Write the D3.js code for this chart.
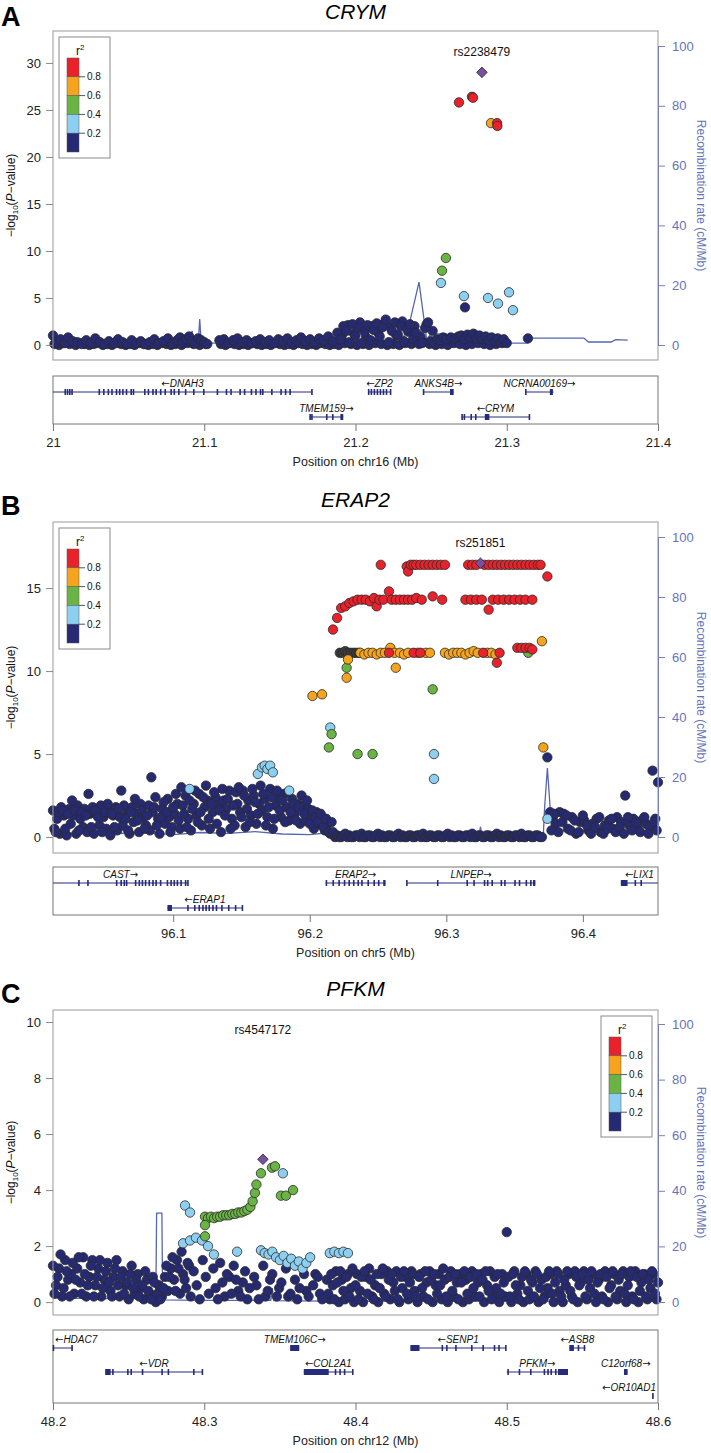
<!DOCTYPE html>
<html>
<head>
<meta charset="utf-8">
<script src="https://cdn.jsdelivr.net/npm/d3@7"></script>
<style>
body { margin: 0; background: #fff; }
svg text { font-family: "Liberation Sans", Arial, sans-serif; }
</style>
</head>
<body>
<svg id="chart" width="711" height="1453"></svg>
<script>
// ---- panel A : CRYM, chr16 ----
var aLead = [21.2836, 29.0];
var aRed = [[21.2684,25.8],[21.2770,26.4],[21.2777,26.3],[21.2936,23.6],[21.2938,23.3]];
var aOrange = [[21.2896,23.6]];
var aGreen = [[21.2598,9.25],[21.2572,7.9]];
var aLightBlue = [[21.2565,6.6],[21.2717,5.2],[21.2876,5.0],[21.2942,4.4],[21.3015,5.6],[21.3041,3.7]];
var aNavy = [[21.000,1.0],[21.002,0.3],[21.005,0.6],[21.008,0.2],[21.010,0.8],[21.013,0.4],[21.016,0.3],[21.019,0.1],[21.022,0.5],[21.025,0.2],[21.028,0.7],[21.031,0.3],[21.034,0.1],[21.037,0.4],[21.040,0.2],[21.043,0.6],[21.046,0.3],[21.049,0.1],[21.052,0.5],[21.055,0.2],[21.058,0.4],[21.061,0.1],[21.064,0.3],[21.067,0.6],[21.070,0.2],[21.073,0.4],[21.076,0.7],[21.079,0.2],[21.082,0.5],[21.084,0.8],[21.086,0.3],[21.088,0.6],[21.090,0.9],[21.092,0.4],[21.094,0.2],[21.096,0.7],[21.098,0.5],[21.100,0.3],[21.102,0.1],[21.110,0.5],[21.113,0.6],[21.116,0.2],[21.119,0.5],[21.122,0.7],[21.125,0.3],[21.128,0.5],[21.131,0.2],[21.134,0.4],[21.137,0.6],[21.140,0.3],[21.143,0.5],[21.146,0.2],[21.149,0.6],[21.152,0.4],[21.155,0.7],[21.158,0.3],[21.161,0.5],[21.164,0.8],[21.167,0.4],[21.170,0.6],[21.173,0.3],[21.176,0.7],[21.179,0.5],[21.182,0.9],[21.185,0.4],[21.188,1.3],[21.190,0.6],[21.192,2.0],[21.194,1.5],[21.196,0.3],[21.198,2.2],[21.200,1.0],[21.202,1.8],[21.204,0.2],[21.206,1.4],[21.208,2.1],[21.210,0.5],[21.212,1.6],[21.214,2.3],[21.216,0.9],[21.218,1.9],[21.220,2.7],[21.222,0.3],[21.224,1.5],[21.226,2.4],[21.228,1.1],[21.230,2.0],[21.232,0.4],[21.234,1.7],[21.236,2.2],[21.238,0.6],[21.240,1.3],[21.242,0.1],[21.244,0.2],[21.246,1.8],[21.248,2.4],[21.250,0.4],[21.252,0.2],[21.254,0.6],[21.256,0.5],[21.258,0.8],[21.260,0.6],[21.263,0.8],[21.266,0.7],[21.268,0.9],[21.270,1.0],[21.2724,4.0],[21.272,0.6],[21.274,1.1],[21.276,0.8],[21.278,1.2],[21.280,0.7],[21.282,1.0],[21.284,0.6],[21.286,0.9],[21.288,0.5],[21.290,0.8],[21.292,0.4],[21.294,0.7],[21.296,0.3],[21.298,0.6],[21.300,0.2],[21.314,0.7]];
var aNavyBase = [[21.001,0.1],[21.004,0.0],[21.007,0.2],[21.011,0.1],[21.015,0.0],[21.018,0.2],[21.021,0.1],[21.024,0.0],[21.027,0.1],[21.030,0.2],[21.033,0.0],[21.036,0.1],[21.039,0.0],[21.042,0.2],[21.045,0.1],[21.048,0.0],[21.051,0.1],[21.054,0.0],[21.057,0.2],[21.060,0.1],[21.063,0.0],[21.066,0.1],[21.069,0.0],[21.072,0.2],[21.075,0.1],[21.078,0.0],[21.081,0.1],[21.085,0.0],[21.089,0.2],[21.093,0.1],[21.097,0.0],[21.101,0.1],[21.111,0.1],[21.114,0.0],[21.117,0.2],[21.120,0.1],[21.123,0.0],[21.126,0.1],[21.129,0.0],[21.132,0.2],[21.135,0.1],[21.138,0.0],[21.141,0.1],[21.144,0.0],[21.147,0.2],[21.150,0.1],[21.153,0.0],[21.156,0.1],[21.159,0.0],[21.162,0.2],[21.165,0.1],[21.168,0.0],[21.171,0.1],[21.174,0.0],[21.177,0.2],[21.180,0.1],[21.183,0.0],[21.186,0.1],[21.189,0.0],[21.193,0.2],[21.197,0.1],[21.201,0.0],[21.205,0.1],[21.209,0.0],[21.213,0.2],[21.217,0.1],[21.221,0.0],[21.225,0.1],[21.229,0.0],[21.233,0.2],[21.237,0.1],[21.241,0.5],[21.245,0.3],[21.249,0.1],[21.253,0.0],[21.257,0.1],[21.261,0.0],[21.265,0.2],[21.269,0.1],[21.273,0.0],[21.277,0.1],[21.281,0.2],[21.285,0.1],[21.289,0.0],[21.293,0.1],[21.297,0.2],
  [21.191,1.0],[21.195,2.1],[21.199,1.2],[21.203,2.4],[21.207,0.8],[21.211,2.0],[21.215,1.3],[21.219,2.3],[21.223,1.9],[21.227,1.0],[21.231,2.5],[21.235,1.4],[21.239,2.0],[21.243,0.9],[21.247,2.2],[21.251,1.5]];
var aRec = [[21.0,0.8],[21.090,0.8],[21.092,4.7],[21.093,0.5],[21.096,0.5],[21.097,8.7],[21.098,0.6],[21.230,0.6],[21.236,8],[21.242,21],[21.247,2],[21.250,3.7],[21.260,3.7],[21.262,0.3],[21.300,0.6],[21.314,0.6],[21.315,2.3],[21.351,2.3],[21.354,1.0],[21.369,1.0],[21.372,1.8],[21.380,1.6]];
var aGenes = [
  {name:"DNAH3", start:21.0, end:21.1712, strand:"-", row:0, exons:[21.0081,21.0096,21.0111,21.0126,21.0306,21.0336,21.0366,21.039,21.042,21.0441,21.0462,21.0486,21.0517,21.0532,21.0607,21.0631,21.0661,21.0682,21.0712,21.0742,21.0781,21.0802,21.0832,21.0877,21.0931,21.0997,21.1087,21.1147,21.1177,21.1237,21.1267,21.1312,21.1342,21.1372,21.1387,21.1447,21.1508,21.1538,21.1568,21.1712]},
  {name:"ZP2", start:21.2084, end:21.2234, strand:"-", row:0, exons:[21.2087,21.2105,21.2125,21.2145,21.2165,21.2185,21.2205,21.2232]},
  {name:"ANKS4B", start:21.2447, end:21.2649, strand:"+", row:0, exons:[21.245,[21.2625,21.2649]]},
  {name:"NCRNA00169", start:21.3123, end:21.331, strand:"+", row:0, exons:[21.3126,[21.3285,21.3305]]},
  {name:"TMEM159", start:21.1697, end:21.1919, strand:"+", row:1, exons:[21.170,21.1712,21.181,21.185,[21.190,21.1919]]},
  {name:"CRYM", start:21.270, end:21.315, strand:"-", row:1, exons:[21.2705,21.272,21.2765,21.2795,[21.2855,21.2885],21.315]}
];

// ---- panel B : ERAP2, chr5 ----
var bLead = [96.325, 16.5];
var bRed = [[96.252,16.4],[96.271,16.3],[96.272,16.0],[96.274,16.4],[96.276,16.4],[96.278,16.4],[96.281,16.4],[96.284,16.4],[96.287,16.4],[96.290,16.4],[96.293,16.4],[96.296,16.4],[96.299,16.4],[96.316,16.4],[96.319,16.4],[96.322,16.4],[96.328,16.4],[96.331,16.4],[96.334,16.4],[96.337,16.4],[96.340,16.4],[96.343,16.4],[96.346,16.4],[96.349,16.4],[96.352,16.4],[96.355,16.4],[96.358,16.4],[96.361,16.4],[96.364,16.4],[96.367,16.4],[96.369,16.4],[96.374,15.7],
  [96.217,12.5],[96.220,13.2],[96.223,13.8],[96.226,13.9],[96.229,14.1],[96.232,14.2],[96.235,14.3],[96.238,14.3],[96.241,14.3],[96.244,14.2],[96.247,14.4],[96.249,13.9],[96.251,14.3],[96.254,14.3],[96.258,14.8],[96.260,14.3],[96.263,14.3],[96.266,14.3],[96.269,14.3],[96.272,14.3],[96.275,14.3],[96.278,14.4],[96.282,14.3],[96.290,14.5],[96.297,14.3],[96.314,14.3],[96.318,14.3],[96.322,14.3],[96.326,14.3],[96.331,13.7],[96.334,14.3],[96.338,14.3],[96.342,14.3],[96.346,14.3],[96.350,14.3],[96.354,14.3],[96.358,14.3],[96.363,14.3],
  [96.258,11.1],[96.276,11.1],[96.281,11.1],[96.327,11.1],[96.339,11.1],[96.337,10.5],[96.352,11.4],[96.355,11.4],[96.358,11.4],[96.361,11.4],[96.363,11.3]];
var bOrange = [[96.202,8.5],[96.209,8.6],[96.227,9.6],[96.228,10.7],[96.237,11.1],[96.240,11.0],[96.243,11.1],[96.246,11.1],[96.249,11.0],[96.252,11.1],[96.255,11.1],[96.259,11.4],[96.262,11.1],[96.263,10.2],[96.266,11.1],[96.269,11.0],[96.272,11.1],[96.279,11.1],[96.285,11.1],[96.288,11.1],[96.299,11.1],[96.302,11.0],[96.305,11.1],[96.308,11.1],[96.311,11.1],[96.314,11.0],[96.317,11.1],[96.320,11.2],[96.323,11.1],[96.330,11.1],[96.333,11.1],[96.336,11.0],[96.370,11.8],[96.371,5.4]];
var bGreen = [[96.227,10.2],[96.360,11.1],[96.214,5.4],[96.216,6.2],[96.235,5.0],[96.246,5.0],[96.290,8.9]];
var bLightBlue = [[96.215,6.6],[96.112,2.9],[96.162,3.8],[96.165,4.2],[96.167,4.3],[96.169,4.1],[96.171,4.3],[96.173,3.9],[96.185,2.8],[96.291,5.0],[96.291,3.5],[96.374,1.1]];
var bGray = [[96.222,11.1],[96.224,11.1],[96.226,11.2],[96.228,11.1],[96.230,11.1],[96.232,11.1],[96.234,11.1],[96.236,11.1]];
var bNavy = [[96.012,1.6],[96.014,0.3],[96.016,1.5],[96.019,1.6],[96.021,0.5],[96.023,1.4],[96.026,2.2],[96.028,1.6],[96.031,0.4],[96.033,1.5],[96.036,1.3],[96.038,2.6],[96.040,0.6],[96.043,1.6],[96.045,1.2],[96.048,0.3],[96.050,1.5],[96.052,2.0],[96.055,1.4],[96.057,0.6],[96.060,1.7],[96.062,2.8],[96.065,1.1],[96.067,0.4],[96.069,1.5],[96.072,2.3],[96.074,1.0],[96.077,1.6],[96.079,0.5],[96.081,1.3],[96.084,3.6],[96.086,1.8],[96.088,0.7],[96.091,1.2],[96.093,2.1],[96.095,1.5],[96.098,0.3],[96.100,1.8],[96.102,2.6],[96.104,1.0],[96.106,3.0],[96.108,1.4],[96.110,0.6],[96.112,2.2],[96.114,1.7],[96.116,2.8],[96.118,0.9],[96.120,1.5],[96.122,2.4],[96.124,3.1],[96.126,1.1],[96.128,2.0],[96.130,2.7],[96.132,0.8],[96.134,1.6],[96.136,2.9],[96.138,1.3],[96.140,2.3],[96.142,0.5],[96.144,1.9],[96.146,2.7],[96.148,3.0],[96.150,1.2],[96.152,2.5],[96.154,1.7],[96.156,0.9],[96.158,2.9],[96.160,2.1],[96.162,1.4],[96.164,3.1],[96.166,2.6],[96.168,0.7],[96.170,1.8],[96.172,2.4],[96.174,1.1],[96.176,2.8],[96.178,1.6],[96.180,2.2],[96.182,0.9],[96.184,2.7],[96.186,1.5],[96.188,2.0],[96.190,1.0],[96.192,1.8],[96.194,2.5],[96.196,1.4],[96.198,2.2],[96.200,0.8],[96.202,1.6],[96.204,1.2],[96.206,0.9],[96.208,1.4],[96.210,0.6],[96.212,1.1],[96.214,0.3],[96.216,0.9],
  [96.374,4.8],[96.376,1.5],[96.378,1.2],[96.380,0.8],[96.383,1.5],[96.386,1.4],[96.389,0.5],[96.392,1.2],[96.395,0.2],[96.398,0.9],[96.401,1.0],[96.404,0.4],[96.407,0.8],[96.410,1.1],[96.413,0.3],[96.416,0.7],[96.419,1.0],[96.422,0.5],[96.425,1.2],[96.428,0.9],[96.431,2.5],[96.434,0.7],[96.437,1.1],[96.440,0.5],[96.443,1.0],[96.446,0.8],[96.449,0.6],[96.451,4.0],[96.453,1.1],[96.455,3.3]];
var bNavyDense = [[96.013,0.5],[96.015,1.1],[96.017,0.2],[96.018,1.8],[96.020,1.3],[96.022,0.1],[96.024,1.7],[96.025,0.8],[96.027,1.3],[96.029,0.2],[96.030,1.9],[96.032,1.1],[96.034,0.6],[96.035,1.7],[96.037,0.3],[96.039,1.4],[96.041,1.8],[96.042,0.2],[96.044,1.4],[96.046,0.7],[96.047,1.9],[96.049,1.2],[96.051,0.5],[96.053,1.7],[96.054,0.1],[96.056,1.3],[96.058,1.8],[96.059,0.4],[96.061,1.2],[96.063,0.7],[96.064,1.9],[96.066,1.4],[96.068,0.2],[96.070,1.8],[96.071,0.9],[96.073,1.4],[96.075,0.3],[96.076,2.0],[96.078,1.2],[96.080,0.7],[96.082,1.9],[96.083,0.4],[96.085,1.5],[96.087,2.4],[96.089,1.1],[96.090,0.2],[96.092,1.7],[96.094,0.8],[96.096,2.3],[96.097,1.2],[96.099,0.6],[96.101,1.4],[96.103,2.0],[96.105,0.5],[96.107,1.9],[96.109,2.5],[96.111,1.1],[96.113,0.4],[96.115,2.0],[96.117,1.3],[96.119,2.6],[96.121,0.7],[96.123,1.8],[96.125,2.2],[96.127,0.5],[96.129,1.5],[96.131,2.4],[96.133,1.9],[96.135,0.3],[96.137,2.2],[96.139,1.7],[96.141,2.8],[96.143,1.1],[96.145,0.7],[96.147,2.0],[96.149,1.5],[96.151,2.8],[96.153,0.6],[96.155,2.2],[96.157,1.3],[96.159,2.5],[96.161,0.8],[96.163,2.0],[96.165,1.6],[96.167,2.3],[96.169,1.2],[96.171,2.9],[96.173,0.5],[96.175,1.9],[96.177,2.4],[96.179,1.2],[96.181,2.6],[96.183,1.8],[96.185,1.0],[96.187,2.3],[96.189,1.4],[96.191,2.0],[96.193,0.8],[96.195,1.9],[96.197,1.0],[96.199,1.7],[96.201,1.2],[96.203,0.5],[96.205,1.5],[96.207,0.8],[96.209,1.2],[96.211,0.4],[96.213,0.8],[96.215,0.2]];
var bNavyZero = [[96.217,0.3],[96.2185,0.0],[96.220,0.1],[96.2215,0.0],[96.223,0.0],[96.2245,0.1],[96.226,0.2],[96.2275,0.0],[96.229,0.1],[96.2305,0.0],[96.232,0.0],[96.2335,0.1],[96.235,0.1],[96.2365,0.0],[96.238,0.2],[96.2395,0.0],[96.241,0.0],[96.2425,0.1],[96.244,0.1],[96.2455,0.0],[96.247,0.0],[96.2485,0.1],[96.250,0.2],[96.2515,0.0],[96.253,0.1],[96.2545,0.0],[96.256,0.0],[96.2575,0.1],[96.259,0.1],[96.2605,0.0],[96.262,0.0],[96.2635,0.1],[96.265,0.2],[96.2665,0.0],[96.268,0.1],[96.2695,0.0],[96.271,0.0],[96.2725,0.1],[96.274,0.1],[96.2755,0.0],[96.277,0.0],[96.2785,0.1],[96.280,0.1],[96.2815,0.0],[96.283,0.2],[96.2845,0.0],[96.286,0.0],[96.2875,0.1],[96.289,0.1],[96.2905,0.0],[96.292,0.0],[96.2935,0.1],[96.295,0.1],[96.2965,0.0],[96.298,0.0],[96.2995,0.1],[96.301,0.2],[96.3025,0.0],[96.304,0.1],[96.3055,0.0],[96.307,0.0],[96.3085,0.1],[96.310,0.1],[96.3115,0.0],[96.313,0.0],[96.3145,0.1],[96.316,0.1],[96.3175,0.0],[96.319,0.2],[96.3205,0.0],[96.322,0.0],[96.3235,0.1],[96.325,0.1],[96.3265,0.0],[96.328,0.0],[96.3295,0.1],[96.331,0.1],[96.3325,0.0],[96.334,0.0],[96.3355,0.1],[96.337,0.2],[96.3385,0.0],[96.340,0.1],[96.3415,0.0],[96.343,0.0],[96.3445,0.1],[96.346,0.1],[96.3475,0.0],[96.349,0.0],[96.3505,0.1],[96.352,0.1],[96.3535,0.0],[96.355,0.2],[96.3565,0.0],[96.358,0.0],[96.3595,0.1],[96.361,0.1],[96.3625,0.0],[96.364,0.0],[96.3655,0.1],[96.367,0.1],[96.3685,0.0],[96.370,0.0],
  [96.377,0.4],[96.379,1.4],[96.382,0.3],[96.385,0.9],[96.388,1.3],[96.391,0.4],[96.394,1.0],[96.397,0.3],[96.400,1.3],[96.403,0.7],[96.406,0.2],[96.409,0.6],[96.412,1.2],[96.415,0.2],[96.418,0.5],[96.421,1.1],[96.424,0.3],[96.427,0.6],[96.430,0.2],[96.433,1.2],[96.436,0.4],[96.439,0.9],[96.442,0.3],[96.445,1.2],[96.448,0.2],[96.452,0.9],[96.454,0.4]];
var bRec = [[96.012,1.2],[96.05,1.0],[96.08,1.5],[96.10,0.8],[96.12,1.5],[96.14,1.2],[96.16,1.8],[96.18,1.0],[96.20,0.8],[96.215,1.5],[96.22,0.3],[96.324,0.3],[96.325,3.5],[96.326,0.3],[96.371,0.5],[96.372,10],[96.374,23],[96.376,10],[96.378,2.0],[96.40,2.2],[96.455,2.0]];
var bGenes = [
  {name:"CAST", start:96.012, end:96.111, strand:"+", row:0, exons:[96.031,96.0376,96.0586,96.0619,96.0642,96.0659,96.0725,96.0752,96.0775,96.0798,96.0825,96.0852,96.0875,96.0908,96.0958,96.0985,96.1008,96.1031,96.1058,96.1091,96.1108]},
  {name:"ERAP1", start:96.0958, end:96.1507, strand:"-", row:1, exons:[[96.0958,96.0991],96.1108,96.1158,96.1191,96.1218,96.1241,96.1264,96.1291,96.1317,96.1357,96.1407,96.1457,96.1507]},
  {name:"ERAP2", start:96.2116, end:96.2555, strand:"+", row:0, exons:[96.2122,96.2172,96.2215,96.2255,96.2289,96.2322,96.2355,96.2382,96.2428,96.2472,96.2505,[96.2538,96.2555]]},
  {name:"LNPEP", start:96.2711, end:96.3652, strand:"+", row:0, exons:[96.2711,96.2937,96.3153,96.3203,96.328,96.3303,96.3336,96.3403,96.3429,96.3503,96.3536,96.3586,96.3619,[96.3635,96.3652]]},
  {name:"LIX1", start:96.4278, end:96.455, strand:"-", row:0, exons:[[96.4278,96.4327],96.4384,96.4427]}
];

// ---- panel C : PFKM, chr12 ----
var cLead = [48.3388, 5.1];
var cGreen = [[48.3005,3.05],[48.3025,3.0],[48.3045,3.05],[48.3065,3.0],[48.3085,3.05],[48.3105,3.05],[48.3125,3.1],[48.3145,3.1],[48.3165,3.1],[48.3185,3.15],[48.3205,3.15],[48.3225,3.2],[48.3245,3.2],[48.3265,3.25],[48.3285,3.3],[48.3305,3.4],[48.3320,3.6],[48.3335,3.9],[48.3345,4.2],[48.3375,4.6],[48.3448,4.8],[48.3468,4.85],[48.3507,3.8],[48.3540,3.8],[48.3587,4.0],[48.3005,2.75],[48.3005,2.35]];
var cLightBlue = [[48.3520,4.6],[48.2873,3.45],[48.2906,3.2],[48.2860,2.1],[48.2906,2.2],[48.2945,2.3],[48.2985,2.2],[48.3025,2.0],[48.3064,1.7],[48.3217,1.8],[48.3375,1.85],[48.3400,1.75],[48.3425,1.7],[48.3450,1.8],[48.3475,1.6],[48.3500,1.5],[48.3525,1.65],[48.3550,1.4],[48.3575,1.55],[48.3600,1.3],[48.3625,1.45],[48.3650,1.2],[48.3675,1.4],[48.3700,1.6],[48.3830,1.75],[48.3860,1.8],[48.3890,1.75],[48.3920,1.8],[48.3950,1.75]];
var cNavy = [[48.200,1.3],[48.201,0.3],[48.203,0.9],[48.205,1.7],[48.207,0.5],[48.209,1.1],[48.211,0.2],[48.213,1.4],[48.215,0.8],[48.217,1.6],[48.219,0.3],[48.221,1.0],[48.223,0.6],[48.225,1.3],[48.227,0.2],[48.229,0.9],[48.231,1.5],[48.233,0.5],[48.235,1.1],[48.237,0.7],[48.239,0.2],[48.241,1.2],[48.243,0.6],[48.245,0.9],[48.247,0.3],[48.249,0.7],[48.251,1.0],[48.253,0.5],[48.255,0.8],[48.257,0.2],[48.259,0.6],[48.261,1.1],[48.263,0.4],[48.265,0.1],[48.267,0.7],[48.269,0.3],[48.271,0.1],[48.273,0.5],[48.275,1.3],[48.277,0.9],[48.279,1.6],[48.281,0.4],[48.283,1.2],[48.285,1.8],[48.287,0.8],[48.289,1.4],[48.291,0.2],[48.293,1.1],[48.295,0.6],[48.297,0.1],[48.299,1.5],[48.301,0.9],[48.303,0.3],[48.306,1.2],[48.309,0.1],[48.312,0.7],[48.315,1.0],[48.318,0.3],[48.321,0.8],[48.324,0.2],[48.327,1.1],[48.330,0.5],[48.333,0.9],[48.336,0.1],[48.339,1.3],[48.342,0.4],[48.345,1.0],[48.348,0.2],[48.351,0.7],[48.354,1.2],[48.357,0.3],[48.360,0.8],[48.363,0.5],[48.366,1.0],[48.369,0.2],[48.372,0.6],[48.375,0.9],[48.378,0.1],[48.381,0.8],
  [48.382,0.3],[48.384,1.0],[48.386,0.1],[48.388,0.7],[48.390,1.1],[48.392,0.4],[48.394,0.9],[48.396,0.2],[48.398,1.2],[48.400,0.6],[48.402,0.1],[48.404,0.9],[48.406,1.1],[48.408,0.3],[48.410,0.8],[48.412,0.1],[48.414,1.0],[48.416,0.5],[48.418,1.2],[48.420,0.2],[48.422,0.8],[48.424,1.0],[48.426,0.4],[48.428,0.1],[48.430,0.9],[48.432,1.1],[48.434,0.3],[48.436,0.7],[48.438,1.0],[48.440,0.2],[48.442,0.9],[48.444,0.5],[48.446,1.1],[48.448,0.1],[48.450,0.8],[48.452,1.0],[48.454,0.3],[48.456,0.6],[48.458,1.2],[48.460,0.2],[48.462,0.9],[48.464,0.4],[48.466,1.0],[48.468,0.1],[48.470,0.7],[48.472,1.1],[48.474,0.3],[48.476,0.9],[48.478,0.5],[48.480,1.0],[48.482,0.2],[48.484,0.8],[48.486,1.1],[48.488,0.4],[48.490,0.1],[48.492,0.9],[48.494,1.0],[48.496,0.3],[48.498,0.7],[48.500,2.5],[48.502,0.2],[48.504,1.0],[48.506,0.6],[48.508,0.1],[48.510,0.9],[48.512,1.1],[48.514,0.4],[48.516,0.8],[48.518,0.2],[48.520,1.0],[48.522,0.5],[48.524,0.1],[48.526,0.9],[48.528,1.1],[48.530,0.3],[48.532,0.7],[48.534,1.0],[48.536,0.2],[48.538,0.8],[48.540,1.1],[48.542,0.4],[48.544,0.1],[48.546,0.9],[48.548,0.6],[48.550,1.0],[48.552,0.2],[48.554,0.8],[48.556,1.1],[48.558,0.3],[48.560,0.7],[48.562,1.0],[48.564,0.1],[48.566,0.9],[48.568,0.5],[48.570,1.1],[48.572,0.2],[48.574,0.8],[48.576,1.0],[48.578,0.3],[48.580,0.6],[48.582,1.1],[48.584,0.1],[48.586,0.9],[48.588,0.4],[48.590,1.0],[48.592,0.2],[48.594,0.8],[48.596,1.1],[48.598,0.3],[48.600,0.7]];
var cNavyDense = [[48.202,0.6],[48.204,1.2],[48.206,0.2],[48.208,1.5],[48.210,0.8],[48.212,1.0],[48.214,0.3],[48.216,1.2],[48.218,0.7],[48.220,1.6],[48.222,0.2],[48.224,0.9],[48.226,1.5],[48.228,0.6],[48.230,1.2],[48.232,0.2],[48.234,0.8],[48.236,1.4],[48.238,0.4],[48.240,0.9],[48.242,1.5],[48.244,0.2],[48.246,1.1],[48.248,0.6],[48.250,0.1],[48.252,1.3],[48.254,0.3],[48.256,1.0],[48.258,0.5],[48.260,0.1],[48.262,0.8],[48.264,0.3],[48.266,0.9],[48.268,0.0],[48.270,0.6],[48.272,0.2],[48.274,0.9],[48.276,0.4],[48.278,1.2],[48.280,0.8],[48.282,1.5],[48.284,0.3],[48.286,1.0],[48.288,0.5],[48.290,1.3],[48.3075,0.5],[48.3105,1.4],[48.3135,0.2],[48.3165,0.9],[48.3195,1.3],[48.3225,0.4],[48.3255,0.7],[48.3285,0.1],[48.3345,0.6],[48.3405,0.2],[48.3435,0.8],[48.3495,0.5],[48.3555,0.2],[48.3615,0.1],[48.3675,0.4],[48.3735,1.0],[48.3765,0.3],
  [48.383,0.1],[48.385,0.6],[48.387,1.1],[48.389,0.0],[48.391,0.8],[48.393,0.1],[48.395,1.0],[48.397,0.5],[48.399,0.0],[48.401,1.0],[48.403,0.4],[48.405,0.0],[48.407,0.9],[48.409,1.2],[48.411,0.2],[48.413,0.6],[48.415,0.0],[48.417,1.0],[48.419,0.3],[48.421,1.1],[48.423,0.1],[48.425,0.7],[48.427,1.1],[48.429,0.0],[48.431,0.5],[48.433,0.9],[48.435,0.1],[48.437,1.1],[48.439,0.4],[48.441,0.0],[48.443,1.0],[48.445,0.2],[48.447,0.7],[48.449,1.1],[48.451,0.0],[48.453,0.6],[48.455,1.0],[48.457,0.1],[48.459,0.8],[48.461,0.0],[48.463,1.1],[48.465,0.2],[48.467,0.7],[48.469,1.0],[48.471,0.0],[48.473,0.8],[48.475,0.1],[48.477,1.1],[48.479,0.2],[48.481,0.7],[48.483,1.0],[48.485,0.0],[48.487,0.6],[48.489,1.1],[48.491,0.2],[48.493,0.5],[48.495,0.0],[48.497,1.0],[48.499,0.2],[48.501,0.9],[48.503,0.0],[48.505,1.1],[48.507,0.3],[48.509,0.6],[48.511,0.0],[48.513,1.0],[48.515,0.1],[48.517,0.7],[48.519,1.1],[48.521,0.0],[48.523,0.8],[48.525,0.2],[48.527,0.5],[48.529,1.0],[48.531,0.0],[48.533,1.1],[48.535,0.4],[48.537,0.0],[48.539,0.6],[48.541,1.0],[48.543,0.2],[48.545,1.1],[48.547,0.0],[48.549,0.7],[48.551,1.1],[48.553,0.1],[48.555,0.5],[48.557,1.0],[48.559,0.0],[48.561,0.8],[48.563,0.2],[48.565,1.1],[48.567,0.0],[48.569,0.6],[48.571,1.0],[48.573,0.1],[48.575,0.4],[48.577,1.1],[48.579,0.0],[48.581,0.9],[48.583,0.2],[48.585,1.1],[48.587,0.0],[48.589,0.7],[48.591,1.0],[48.593,0.1],[48.595,0.5],[48.597,1.0],[48.599,0.1]];
var cRec = [[48.200,1.5],[48.230,1.2],[48.268,1.2],[48.2685,32],[48.272,32],[48.2725,0.8],[48.300,0.6],[48.344,0.6],[48.345,5],[48.346,0.5],[48.380,0.3],[48.600,0.3]];
var cGenes = [
  {name:"HDAC7", start:48.200, end:48.2132, strand:"-", row:0, exons:[48.2003,48.2126]},
  {name:"VDR", start:48.2345, end:48.2991, strand:"-", row:1, exons:[[48.2345,48.2381],48.2396,48.2495,48.2517,48.2592,48.2721,48.2763,48.2931,48.2988]},
  {name:"TMEM106C", start:48.3568, end:48.3628, strand:"+", row:0, exons:[[48.3568,48.3628]]},
  {name:"COL2A1", start:48.3658, end:48.3982, strand:"-", row:1, exons:[[48.3658,48.3823],48.3868,48.3898,48.3928,48.3982]},
  {name:"SENP1", start:48.4363, end:48.4994, strand:"-", row:0, exons:[[48.4363,48.4423],48.4574,48.4604,48.4664,48.4769,48.4844,48.4919,48.4949,48.4994]},
  {name:"PFKM", start:48.500, end:48.5405, strand:"+", row:1, exons:[48.5009,48.5084,48.5159,48.5249,48.5273,48.5294,48.5324,[48.5339,48.5405]]},
  {name:"ASB8", start:48.5414, end:48.552, strand:"-", row:0, exons:[[48.5414,48.5444],48.5474,48.5514]},
  {name:"C12orf68", start:48.5775, end:48.5799, strand:"+", row:1, exons:[[48.5775,48.5799]]},
  {name:"OR10AD1", start:48.5961, end:48.597, strand:"-", row:2, exons:[[48.5961,48.597]]}
];

var yTicksA = [0,5,10,15,20,25,30];
var yTicksB = [0,5,10,15];
var yTicksC = [0,2,4,6,8,10];
var recTicks = [0,20,40,60,80,100];
var xTicksA = [21,21.1,21.2,21.3,21.4];
var xTicksB = [96.1,96.2,96.3,96.4];
var xTicksC = [48.2,48.3,48.4,48.5,48.6];
var ldLabels = ["0.8","0.6","0.4","0.2"];

var ldColors = {red:"#e8212a", orange:"#f6a41d", green:"#69b444", lightblue:"#8ccff0", navy:"#262a72", gray:"#3a3a3a"};
var leadColor = "#77519f";
var recColor = "#5666b2";
var geneColor = "#262b7a";
var FONT = '"Liberation Sans", Arial, sans-serif';
var X0 = 53, X1 = 658;

var svg = d3.select("#chart");

var panels = [
  {letter:"A", letterY:26, title:"CRYM", titleY:19, chr:"chr16", xDomain:[21.0,21.4], xTicks:xTicksA,
   yDomain:[-1.6,33.4], yTicks:yTicksA, top:31, bottom:360, recZero:345, recTop:46,
   geneTop:376, geneBottom:424, rowY:[392,417], legend:[59,37], leadName:"rs2238479", leadLabelY:56,
   lead:aLead, rec:aRec, genes:aGenes,
   snps:[["navy",aNavyBase],["navy",aNavy],["lightblue",aLightBlue],["green",aGreen],["orange",aOrange],["red",aRed]]},
  {letter:"B", letterY:515, title:"ERAP2", titleY:507, chr:"chr5", xDomain:[96.012,96.455], xTicks:xTicksB,
   yDomain:[-0.96,18.98], yTicks:yTicksB, top:522, bottom:853, recZero:837, recTop:537,
   geneTop:867, geneBottom:915, rowY:[883,908], legend:[59,528], leadName:"rs251851", leadLabelY:547,
   lead:bLead, rec:bRec, genes:bGenes,
   snps:[["navy",bNavyDense],["navy",bNavy],["navy",bNavyZero],["lightblue",bLightBlue],["green",bGreen],["gray",bGray],["orange",bOrange],["red",bRed]]},
  {letter:"C", letterY:1003, title:"PFKM", titleY:996, chr:"chr12", xDomain:[48.2,48.6], xTicks:xTicksC,
   yDomain:[-0.46,10.43], yTicks:yTicksC, top:1010, bottom:1315, recZero:1302, recTop:1024,
   geneTop:1330, geneBottom:1403, rowY:[1348,1372,1396], legend:[601,1016], leadName:"rs4547172", leadLabelY:1034,
   lead:cLead, rec:cRec, genes:cGenes,
   snps:[["navy",cNavyDense],["navy",cNavy],["lightblue",cLightBlue],["green",cGreen]]}
];

function drawLegend(g, lx, ly) {
  g.append("rect").attr("x", lx).attr("y", ly).attr("width", 51).attr("height", 121)
    .attr("fill", "#fff").attr("stroke", "#8a8a8a");
  var t = g.append("text").attr("x", lx + 17).attr("y", ly + 18).attr("font-size", 12).attr("fill", "#111");
  t.append("tspan").text("r");
  t.append("tspan").attr("dy", -5).attr("font-size", 8).text("2");
  var order = ["red","orange","green","lightblue","navy"];
  var band = d3.scaleBand().domain(order).range([ly + 21, ly + 115]);
  g.selectAll(null).data(order).join("rect")
    .attr("x", lx + 8).attr("y", function(d){ return band(d); })
    .attr("width", 12).attr("height", band.bandwidth())
    .attr("fill", function(d){ return ldColors[d]; }).attr("stroke", "#555").attr("stroke-width", 0.5);
  ldLabels.forEach(function(lab, i) {
    var yy = band(order[i + 1]);
    g.append("line").attr("x1", lx + 20).attr("x2", lx + 26).attr("y1", yy).attr("y2", yy).attr("stroke", "#555");
    g.append("text").attr("x", lx + 28).attr("y", yy + 3.5).attr("font-size", 10).attr("fill", "#111").text(lab);
  });
}

function drawPanel(p) {
  var g = svg.append("g");
  var x = d3.scaleLinear().domain(p.xDomain).range([X0, X1]);
  var y = d3.scaleLinear().domain(p.yDomain).range([p.bottom, p.top]);
  var rec = d3.scaleLinear().domain([0, 100]).range([p.recZero, p.recTop]);

  g.append("text").attr("x", 1).attr("y", p.letterY).attr("font-size", 27).attr("font-weight", "bold").text(p.letter);
  g.append("text").attr("x", (X0 + X1) / 2).attr("y", p.titleY).attr("text-anchor", "middle")
    .attr("font-size", 21).attr("font-style", "italic").text(p.title);

  // recombination rate
  g.append("path").datum(p.rec).attr("fill", "none").attr("stroke", recColor).attr("stroke-width", 1.3)
    .attr("d", d3.line().x(function(d){ return x(d[0]); }).y(function(d){ return rec(d[1]); }));

  // snps by LD class
  p.snps.forEach(function(s) {
    g.append("g").selectAll("circle").data(s[1]).join("circle")
      .attr("cx", function(d){ return x(d[0]); }).attr("cy", function(d){ return y(d[1]); })
      .attr("r", 4.7).attr("fill", ldColors[s[0]]).attr("stroke", "#2b2b2b").attr("stroke-width", 0.8);
  });
  g.append("path").attr("d", d3.symbol(d3.symbolSquare, 56)())
    .attr("transform", "translate(" + x(p.lead[0]) + "," + y(p.lead[1]) + ") rotate(45)")
    .attr("fill", leadColor).attr("stroke", "#2b2b2b").attr("stroke-width", 0.8);
  g.append("text").attr("x", x(p.lead[0])).attr("y", p.leadLabelY).attr("text-anchor", "middle")
    .attr("font-size", 12).attr("fill", "#111").text(p.leadName);

  g.append("rect").attr("x", X0).attr("y", p.top).attr("width", X1 - X0).attr("height", p.bottom - p.top)
    .attr("fill", "none").attr("stroke", "#999");

  var ya = g.append("g").attr("transform", "translate(" + X0 + ",0)")
    .call(d3.axisLeft(y).tickValues(p.yTicks).tickSize(7).tickPadding(5).tickFormat(d3.format("d")));
  ya.attr("font-family", FONT).attr("font-size", 13);
  ya.select(".domain").remove();
  ya.selectAll(".tick line").attr("stroke", "#888");
  ya.selectAll(".tick text").attr("fill", "#222");

  var ra = g.append("g").attr("transform", "translate(" + X1 + ",0)")
    .call(d3.axisRight(rec).tickValues(recTicks).tickSize(7).tickSizeOuter(0).tickPadding(7));
  ra.attr("font-family", FONT).attr("font-size", 13);
  ra.select(".domain").attr("stroke", "#7480bd");
  ra.selectAll(".tick line").attr("stroke", "#7480bd");
  ra.selectAll(".tick text").attr("fill", "#6573b8");

  var cy = (p.top + p.bottom) / 2;
  var yl = g.append("text").attr("transform", "translate(15," + cy + ") rotate(-90)")
    .attr("text-anchor", "middle").attr("font-size", 12).attr("fill", "#111");
  yl.append("tspan").text("\u2212log");
  yl.append("tspan").attr("font-size", 8).attr("dy", 3).text("10");
  yl.append("tspan").attr("dy", -3).text("(");
  yl.append("tspan").attr("font-style", "italic").text("P");
  yl.append("tspan").text("\u2212value)");

  g.append("text").attr("transform", "translate(697," + cy + ") rotate(90)")
    .attr("text-anchor", "middle").attr("font-size", 12).attr("fill", "#6573b8")
    .text("Recombination rate (cM/Mb)");

  drawLegend(g, p.legend[0], p.legend[1]);

  // gene track
  g.append("rect").attr("x", X0).attr("y", p.geneTop).attr("width", X1 - X0).attr("height", p.geneBottom - p.geneTop)
    .attr("fill", "none").attr("stroke", "#777");
  p.genes.forEach(function(gene) {
    var ry = p.rowY[gene.row];
    var gg = g.append("g");
    gg.append("line").attr("x1", x(gene.start)).attr("x2", Math.min(x(gene.end), X1)).attr("y1", ry).attr("y2", ry)
      .attr("stroke", geneColor).attr("stroke-width", 1);
    gg.selectAll("rect").data(gene.exons).join("rect")
      .attr("x", function(e){ return Array.isArray(e) ? x(e[0]) : x(e) - 0.8; })
      .attr("width", function(e){ return Array.isArray(e) ? Math.max(1.6, x(e[1]) - x(e[0])) : 1.6; })
      .attr("y", ry - 3).attr("height", 6).attr("fill", geneColor);
    var cx = (x(gene.start) + Math.min(x(gene.end), X1)) / 2;
    var t = gg.append("text").attr("x", cx).attr("y", ry - 5).attr("text-anchor", "middle")
      .attr("font-size", 10).attr("font-style", "italic").attr("fill", "#111");
    if (gene.strand === "-") t.append("tspan").attr("font-family", "DejaVu Sans").attr("font-style", "normal").text("\u2190");
    t.append("tspan").text(gene.name);
    if (gene.strand === "+") t.append("tspan").attr("font-family", "DejaVu Sans").attr("font-style", "normal").text("\u2192");
    var w = t.node().getComputedTextLength();
    if (cx - w / 2 < X0 + 2) t.attr("x", X0 + 2 + w / 2);
    if (cx + w / 2 > X1 - 2) t.attr("x", X1 - 2 - w / 2);
  });

  var xa = g.append("g").attr("transform", "translate(0," + p.geneBottom + ")")
    .call(d3.axisBottom(x).tickValues(p.xTicks).tickSize(7).tickPadding(7).tickFormat(function(d){ return String(d); }));
  xa.attr("font-family", FONT).attr("font-size", 13);
  xa.select(".domain").remove();
  xa.selectAll(".tick line").attr("stroke", "#777");
  xa.selectAll(".tick text").attr("fill", "#222");

  g.append("text").attr("x", (X0 + X1) / 2).attr("y", p.geneBottom + 42).attr("text-anchor", "middle")
    .attr("font-size", 12.5).attr("fill", "#222").text("Position on " + p.chr + " (Mb)");
}

panels.forEach(drawPanel);
</script>
</body>
</html>
